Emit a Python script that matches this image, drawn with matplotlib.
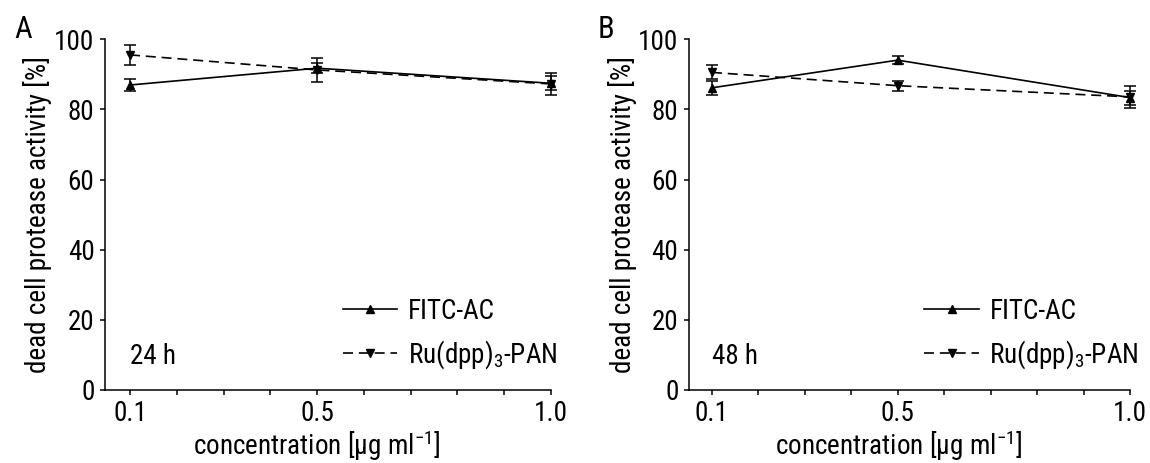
import matplotlib
matplotlib.use("Agg")
import matplotlib.pyplot as plt
import numpy as np

plt.rcParams['font.family'] = ['Roboto Condensed', 'Liberation Sans', 'DejaVu Sans']
plt.rcParams['mathtext.fontset'] = 'custom'
plt.rcParams['mathtext.rm'] = 'Roboto Condensed'
plt.rcParams['mathtext.it'] = 'Roboto Condensed'
plt.rcParams['mathtext.default'] = 'regular'

conc = [0.1, 0.5, 1.0]
tick_pos = [0.1, 0.2, 0.3, 0.4, 0.5, 0.6, 0.7, 0.8, 0.9, 1.0]
tick_lab = ['0.1', '', '', '', '0.5', '', '', '', '', '1.0']

# 24 h
fitc_24 = [87.0, 91.8, 87.5]
fitc_24_err = [1.8, 1.5, 2.0]
ru_24 = [95.6, 91.3, 87.3]
ru_24_err = [2.9, 3.4, 3.1]

# 48 h
fitc_48 = [86.2, 94.1, 83.4]
fitc_48_err = [2.0, 1.2, 2.0]
ru_48 = [90.6, 86.8, 83.6]
ru_48_err = [2.0, 1.4, 3.2]

FS = 19.5

fig = plt.figure(figsize=(11.5, 4.63), dpi=100)
axA = fig.add_axes([0.0913, 0.1587, 0.3878, 0.756])
axB = fig.add_axes([0.5991, 0.1587, 0.3835, 0.756])


def panel(ax, fitc, fitc_err, ru, ru_err, time_label, xleft):
    e1 = ax.errorbar(conc, fitc, yerr=fitc_err, color='black', lw=1.2,
                     marker='^', ms=6, capsize=4, elinewidth=1.1, capthick=1.1,
                     clip_on=False, zorder=3)
    e2 = ax.errorbar(conc, ru, yerr=ru_err, color='black', lw=1.2, ls=(0, (6, 3.5)),
                     marker='v', ms=6, capsize=4, elinewidth=1.1, capthick=1.1,
                     clip_on=False, zorder=3)
    ax.set_xlim(xleft, 1.0)
    ax.set_ylim(0, 100)
    ax.set_yticks([0, 20, 40, 60, 80, 100])
    ax.set_xticks(tick_pos)
    ax.set_xticklabels(tick_lab)
    for s in ['top', 'right']:
        ax.spines[s].set_visible(False)
    for s in ['left', 'bottom']:
        ax.spines[s].set_linewidth(1.1)
    ax.tick_params(direction='out', length=3.6, width=1.1, pad=4, labelsize=FS)
    ax.set_ylabel('dead cell protease activity [%]', fontsize=FS)
    ax.yaxis.set_label_coords(-0.118, 0.5)
    ax.set_xlabel('concentration [µg ml$^{-1}$]', fontsize=FS)
    ax.xaxis.set_label_coords(0.475, -0.11)
    ax.text(0.1, 9.5, time_label, fontsize=FS, ha='left', va='center')
    ax.legend([e1[0], e2[0]], ['FITC-AC', 'Ru(dpp)$_3$-PAN'],
              loc='center left', bbox_to_anchor=(0.534, 0.157), frameon=False,
              fontsize=FS, handlelength=2.0, handletextpad=0.4,
              labelspacing=0.5, borderpad=0, borderaxespad=0)


panel(axA, fitc_24, fitc_24_err, ru_24, ru_24_err, '24 h', 0.0465)
panel(axB, fitc_48, fitc_48_err, ru_48, ru_48_err, '48 h', 0.0505)

fig.text(14 / 1150, 1 - 38 / 463, 'A', fontsize=22, va='baseline', ha='left')
fig.text(598 / 1150, 1 - 38 / 463, 'B', fontsize=22, va='baseline', ha='left')

plt.savefig('out.png', dpi=100)
plt.close()
